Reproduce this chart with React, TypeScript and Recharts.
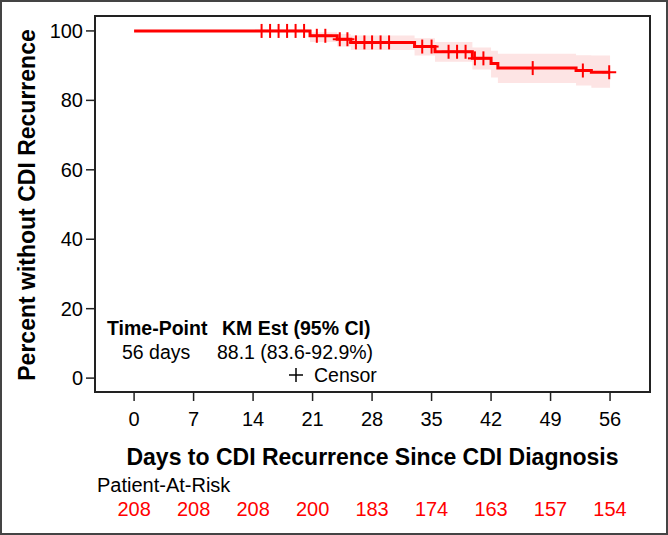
import {
  ComposedChart, Line, Area, Scatter, XAxis, YAxis, ReferenceArea
} from "recharts";

// Kaplan-Meier steps (day the step starts, survival %, 95% CI)
const stepDays = [0, 20.7, 23.9, 25.5, 33.0, 35.4, 39.8, 42.0, 42.8, 52.0, 53.8, 56];
const survival = [100, 98.6, 97.6, 96.7, 95.5, 94.0, 92.1, 90.6, 89.3, 88.6, 88.1, 88.1];
const lowerCI = [100, 96.8, 95.5, 94.5, 92.9, 91.1, 88.9, 86.6, 85.0, 84.3, 83.6, 83.6];
const upperCI = [100, 99.6, 99.1, 98.7, 97.9, 96.8, 95.2, 94.3, 93.4, 93.0, 92.9, 92.9];

// censored observations
const censorDays = [15, 16, 17, 18, 19, 20, 21.5, 22.5, 24.2, 25.1, 26.1, 27.1, 28, 29, 30,
  33.9, 35, 37, 38, 39, 40.1, 41.1, 46.9, 52.8, 55.9];
const censorSurv = [100, 100, 100, 100, 100, 100, 98.6, 98.6, 97.6, 97.6, 96.7, 96.7, 96.7, 96.7, 96.7,
  95.5, 95.5, 94.0, 94.0, 94.0, 92.1, 92.1, 89.3, 88.6, 88.1];

const tickDays = [0, 7, 14, 21, 28, 35, 42, 49, 56];
const atRisk = [208, 208, 208, 200, 183, 174, 163, 157, 154];
const yTicks = [0, 20, 40, 60, 80, 100];

const kmData = stepDays.map((d, i) => ({ day: d, surv: survival[i] }));
const bandData = stepDays.map((d, i) => ({ day: d, ci: [lowerCI[i], upperCI[i]] }));
const censorData = censorDays.map((d, i) => ({ day: d, surv: censorSurv[i] }));

const X_MIN = -4.6;
const X_MAX = 60.7;
const Y_MIN = -4.0;
const Y_MAX = 104.3;

const FONT = "Arial, 'Liberation Sans', Helvetica, sans-serif";

const Plus = (props: any) => {
  const { cx, cy } = props;
  return (
    <g>
      <line x1={cx - 7} x2={cx + 7} y1={cy} y2={cy} stroke="#ff0000" strokeWidth={2} />
      <line x1={cx} x2={cx} y1={cy - 7} y2={cy + 7} stroke="#ff0000" strokeWidth={2} />
    </g>
  );
};

export default function App() {
  return (
    <div style={{ position: "absolute", left: 0, top: 0, width: 668, height: 535, background: "#fff", fontFamily: FONT }}>
      <ComposedChart width={668} height={535} margin={{ top: 16, right: 18, bottom: 0, left: 0 }}>
        <XAxis
          type="number"
          dataKey="day"
          domain={[X_MIN, X_MAX]}
          ticks={tickDays}
          interval={0}
          allowDataOverflow
          height={78}
          tickSize={9}
          tickMargin={11}
          axisLine={{ stroke: "#222", strokeWidth: 2 }}
          tickLine={{ stroke: "#222", strokeWidth: 1.5 }}
          tick={{ fill: "#000", fontSize: 20, fontFamily: FONT }}
        />
        <XAxis
          xAxisId="risk"
          type="number"
          dataKey="day"
          domain={[X_MIN, X_MAX]}
          ticks={tickDays}
          interval={0}
          allowDataOverflow
          height={65}
          tickSize={0}
          tickMargin={32}
          axisLine={false}
          tickLine={false}
          tickFormatter={(v: number) => String(atRisk[tickDays.indexOf(v)])}
          tick={{ fill: "#ff0000", fontSize: 20, fontFamily: FONT }}
        />
        <YAxis
          type="number"
          domain={[Y_MIN, Y_MAX]}
          ticks={yTicks}
          interval={0}
          allowDataOverflow
          width={95}
          tickSize={9}
          tickMargin={3}
          axisLine={{ stroke: "#222", strokeWidth: 2 }}
          tickLine={{ stroke: "#222", strokeWidth: 1.5 }}
          tick={{ fill: "#000", fontSize: 20, fontFamily: FONT }}
        />
        <Area
          data={bandData}
          dataKey="ci"
          type="stepAfter"
          fill="#fde4e4"
          fillOpacity={1}
          stroke="none"
          isAnimationActive={false}
        />
        <Line
          data={kmData}
          dataKey="surv"
          type="stepAfter"
          stroke="#ff0000"
          strokeWidth={3}
          dot={false}
          isAnimationActive={false}
        />
        <Scatter data={censorData} dataKey="surv" shape={Plus} isAnimationActive={false} />
        <ReferenceArea
          x1={X_MIN}
          x2={X_MAX}
          y1={Y_MIN}
          y2={Y_MAX}
          fill="none"
          stroke="#222"
          strokeWidth={2}
          ifOverflow="visible"
        />
      </ComposedChart>

      <svg width={668} height={535} style={{ position: "absolute", left: 0, top: 0, pointerEvents: "none" }}>
        <text transform="translate(35,205) rotate(-90)" textAnchor="middle" fontSize={23} fontWeight="bold" fontFamily={FONT} fill="#000">
          Percent without CDI Recurrence
        </text>
        <text x={372.5} y={465} textAnchor="middle" fontSize={23} fontWeight="bold" fontFamily={FONT} fill="#000">
          Days to CDI Recurrence Since CDI Diagnosis
        </text>
        <text x={97} y={492} fontSize={20} fontFamily={FONT} fill="#000">Patient-At-Risk</text>

        <text x={107} y={335} fontSize={19.5} fontWeight="bold" fontFamily={FONT} fill="#000">Time-Point</text>
        <text x={222} y={335} fontSize={19.5} fontWeight="bold" fontFamily={FONT} fill="#000">KM Est (95% CI)</text>
        <text x={122} y={359} fontSize={19.5} fontFamily={FONT} fill="#000">56 days</text>
        <text x={217} y={359} fontSize={19.5} fontFamily={FONT} fill="#000">88.1 (83.6-92.9%)</text>
        <line x1={289} x2={303} y1={375} y2={375} stroke="#000" strokeWidth={1.5} />
        <line x1={296} x2={296} y1={368} y2={382} stroke="#000" strokeWidth={1.5} />
        <text x={314} y={382} fontSize={19.5} fontFamily={FONT} fill="#000">Censor</text>
      </svg>

      <div style={{ position: "absolute", left: 0, top: 0, width: 668, height: 535, boxSizing: "border-box", border: "2px solid #444", pointerEvents: "none" }} />
    </div>
  );
}
